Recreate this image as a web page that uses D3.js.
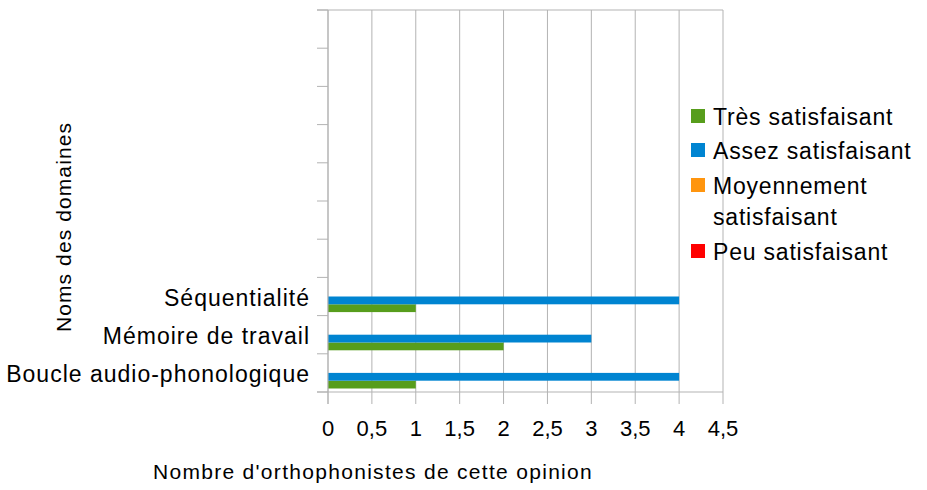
<!DOCTYPE html>
<html>
<head>
<meta charset="utf-8">
<script src="https://cdn.jsdelivr.net/npm/d3@7"></script>
<style>
  body { margin: 0; background: #fff; }
  text { font-family: "Liberation Sans", Arial, sans-serif; fill: #000; }
</style>
</head>
<body>
<svg width="927" height="490"></svg>
<script>
// catégories, de bas en haut (7 emplacements vides au-dessus)
var categories = ["Boucle audio-phonologique", "Mémoire de travail", "Séquentialité", "", "", "", "", "", "", ""];
var seriesNames = ["Très satisfaisant", "Assez satisfaisant", "Moyennement satisfaisant", "Peu satisfaisant"];
var seriesColors = ["#579d1c", "#0084d1", "#ff950e", "#ff0000"];
var tresValues = [1, 2, 1, 0, 0, 0, 0, 0, 0, 0];
var assezValues = [4, 3, 4, 0, 0, 0, 0, 0, 0, 0];
var moyenValues = [0, 0, 0, 0, 0, 0, 0, 0, 0, 0];
var peuValues = [0, 0, 0, 0, 0, 0, 0, 0, 0, 0];
var xTicks = [0, 0.5, 1, 1.5, 2, 2.5, 3, 3.5, 4, 4.5];

var allValues = [tresValues, assezValues, moyenValues, peuValues];

var svg = d3.select("svg");

var x = d3.scaleLinear()
    .domain([0, 4.5])
    .range([328, 723]);

var y = d3.scaleBand()
    .domain(d3.range(categories.length))
    .range([392, 10]);

// position des séries dans chaque catégorie : Très en bas, Peu en haut
var ySeries = d3.scaleBand()
    .domain([3, 2, 1, 0])
    .range([0, y.bandwidth()])
    .paddingOuter(0.45);

var grid = svg.append("g");

// grille verticale
grid.selectAll("line.v")
    .data(xTicks)
    .enter()
    .append("line")
    .attr("x1", function (d) { return x(d); })
    .attr("x2", function (d) { return x(d); })
    .attr("y1", 10)
    .attr("y2", 404)
    .attr("stroke", "#b3b3b3")
    .attr("stroke-width", 1);

// bord supérieur
grid.append("line")
    .attr("x1", 317).attr("x2", x(4.5))
    .attr("y1", 10).attr("y2", 10)
    .attr("stroke", "#b3b3b3");

// bas de l'axe des abscisses
grid.append("line")
    .attr("x1", 317).attr("x2", x(4.5))
    .attr("y1", 392).attr("y2", 392)
    .attr("stroke", "#b3b3b3");

// graduations de l'axe des catégories
var bounds = d3.range(categories.length + 1).map(function (i) {
    return i < categories.length ? y(i) + y.bandwidth() : y(categories.length - 1);
});
grid.selectAll("line.t")
    .data(bounds)
    .enter()
    .append("line")
    .attr("x1", 317)
    .attr("x2", 328)
    .attr("y1", function (d) { return d; })
    .attr("y2", function (d) { return d; })
    .attr("stroke", "#b3b3b3");

// barres
var bars = svg.append("g");
allValues.forEach(function (vals, s) {
    bars.selectAll("rect.s" + s)
        .data(vals)
        .enter()
        .append("rect")
        .attr("x", x(0))
        .attr("y", function (d, i) { return y(i) + ySeries(s); })
        .attr("width", function (d) { return x(d) - x(0); })
        .attr("height", ySeries.bandwidth())
        .attr("fill", seriesColors[s]);
});

// axe vertical
svg.append("line")
    .attr("x1", 328).attr("x2", 328)
    .attr("y1", 10).attr("y2", 404)
    .attr("stroke", "#b3b3b3");

// étiquettes des catégories
svg.append("g")
    .selectAll("text")
    .data(categories)
    .enter()
    .append("text")
    .attr("x", 310)
    .attr("y", function (d, i) { return y(i) + y.bandwidth() / 2 + 9; })
    .attr("text-anchor", "end")
    .attr("font-size", "23px")
    .attr("letter-spacing", "1px")
    .text(function (d) { return d; });

// étiquettes de l'axe x
svg.append("g")
    .selectAll("text")
    .data(xTicks)
    .enter()
    .append("text")
    .attr("x", function (d) { return x(d); })
    .attr("y", 436)
    .attr("text-anchor", "middle")
    .attr("font-size", "22px")
    .text(function (d) { return String(d).replace(".", ","); });

// titres des axes
svg.append("text")
    .attr("x", 373)
    .attr("y", 479)
    .attr("text-anchor", "middle")
    .attr("font-size", "21px")
    .attr("letter-spacing", "1.3px")
    .text("Nombre d'orthophonistes de cette opinion");

svg.append("text")
    .attr("transform", "translate(71,227) rotate(-90)")
    .attr("text-anchor", "middle")
    .attr("font-size", "21px")
    .attr("letter-spacing", "1.1px")
    .text("Noms des domaines");

// légende
var legendRows = [
    { s: 0, lines: ["Très satisfaisant"], y: 125 },
    { s: 1, lines: ["Assez satisfaisant"], y: 159 },
    { s: 2, lines: ["Moyennement", "satisfaisant"], y: 194 },
    { s: 3, lines: ["Peu satisfaisant"], y: 260 }
];
var legend = svg.append("g");
var item = legend.selectAll("g")
    .data(legendRows)
    .enter()
    .append("g");
item.append("rect")
    .attr("x", 691)
    .attr("y", function (d) { return d.y - 16; })
    .attr("width", 14)
    .attr("height", 14)
    .attr("fill", function (d) { return seriesColors[d.s]; });
item.append("text")
    .attr("x", 713)
    .attr("y", function (d) { return d.y; })
    .attr("font-size", "23px")
    .attr("letter-spacing", "0.8px")
    .selectAll("tspan")
    .data(function (d) { return d.lines; })
    .enter()
    .append("tspan")
    .attr("x", 713)
    .attr("dy", function (d, i) { return i ? 31 : 0; })
    .text(function (d) { return d; });
</script>
</body>
</html>
